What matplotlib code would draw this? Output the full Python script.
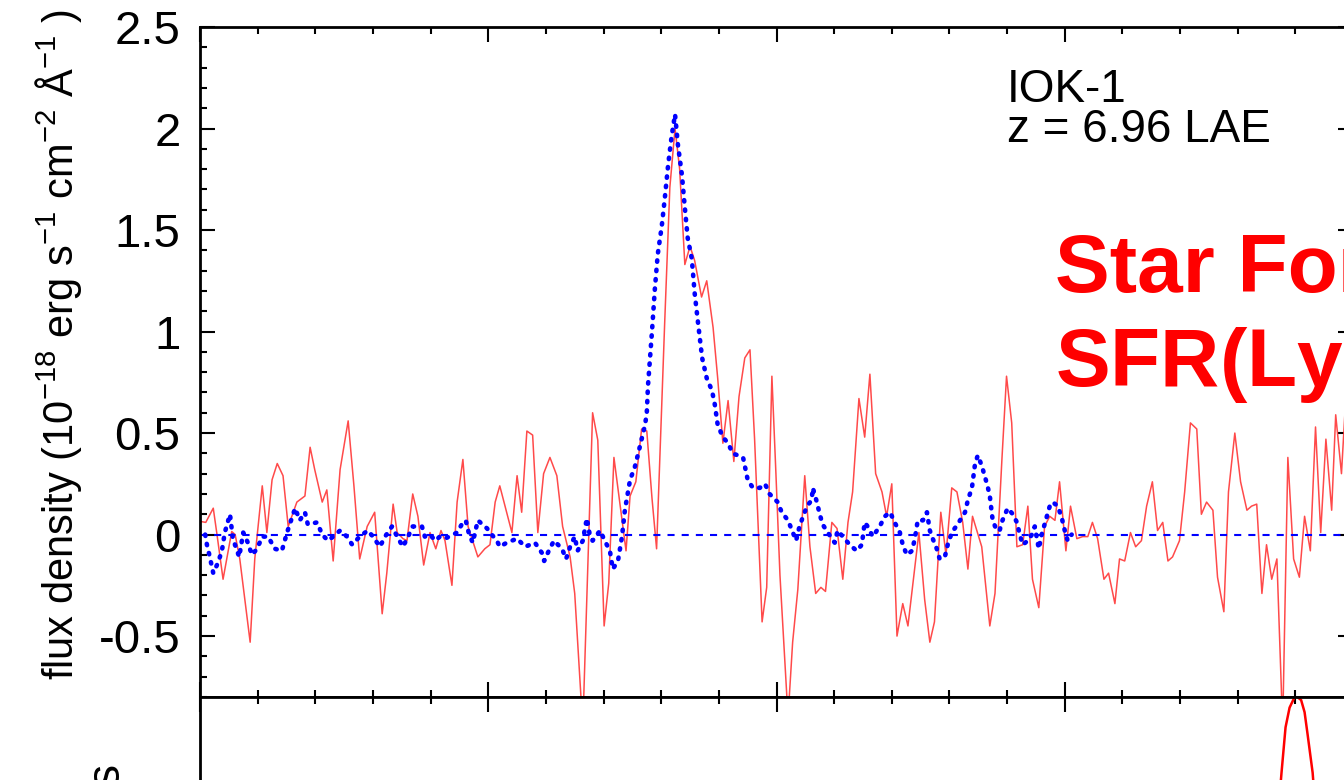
# IOK-1 Lya spectrum: observed flux (red) and smoothed profile (blue dotted)
import matplotlib
matplotlib.use('Agg')
import matplotlib.pyplot as plt
from matplotlib.ticker import MultipleLocator

plt.rcParams['font.family'] = ['Liberation Sans', 'DejaVu Sans']
plt.rcParams['mathtext.fontset'] = 'custom'
plt.rcParams['mathtext.rm'] = 'Liberation Sans'
plt.rcParams['mathtext.it'] = 'Liberation Sans:italic'

# observed spectrum (Angstrom, 1e-18 erg/s/cm2/A)
obs_wave = [9600.0, 9601.0, 9602.3, 9602.9, 9604.0, 9605.5, 9606.1, 9606.9, 9608.7, 9609.5,
            9610.8, 9611.6, 9612.5, 9613.4, 9614.4, 9615.3, 9616.8, 9618.2, 9619.1, 9619.9,
            9621.2, 9622.0, 9623.1, 9624.3, 9625.7, 9626.7, 9627.7, 9629.0, 9630.3, 9631.6,
            9632.4, 9633.5, 9634.2, 9635.2, 9635.9, 9636.9, 9637.8, 9638.8, 9639.9, 9640.9,
            9641.8, 9642.5, 9643.7, 9644.6, 9645.6, 9646.5, 9648.2, 9649.4, 9650.3, 9651.2,
            9652.0, 9653.1, 9654.1, 9655.0, 9655.8, 9656.7, 9657.7, 9658.6, 9659.6, 9660.7,
            9661.9, 9662.9, 9664.2, 9665.0, 9666.4, 9668.1, 9669.0, 9670.1, 9670.9, 9671.8,
            9672.8, 9673.9, 9674.6, 9675.6, 9676.6, 9677.5, 9678.4, 9679.2, 9680.6, 9681.5,
            9682.4, 9683.2, 9684.1, 9685.0, 9685.8, 9687.0, 9687.9, 9689.0, 9689.8, 9690.7,
            9691.6, 9692.6, 9693.5, 9694.5, 9695.4, 9696.2, 9697.5, 9698.3, 9699.2, 9699.9,
            9700.6, 9702.0, 9702.8, 9703.7, 9704.9, 9705.8, 9706.8, 9707.7, 9708.5, 9709.6,
            9710.5, 9711.5, 9712.4, 9713.2, 9714.3, 9715.3, 9716.2, 9717.2, 9718.3, 9719.1,
            9720.0, 9720.9, 9721.9, 9722.8, 9723.8, 9724.7, 9725.7, 9726.6, 9727.4, 9728.5,
            9729.4, 9730.4, 9731.3, 9732.3, 9733.2, 9734.0, 9735.6, 9737.0, 9737.9, 9739.1,
            9739.9, 9740.8, 9741.7, 9742.7, 9743.6, 9744.4, 9745.5, 9746.5, 9747.4, 9748.3,
            9749.1, 9750.2, 9751.0, 9752.1, 9753.1, 9754.0, 9754.8, 9755.7, 9756.8, 9757.6,
            9758.7, 9759.5, 9760.4, 9761.4, 9762.3, 9763.3, 9764.2, 9765.2, 9766.1, 9767.0,
            9767.9, 9768.7, 9769.9, 9770.8, 9771.8, 9772.9, 9773.7, 9774.6, 9775.7, 9776.5,
            9777.6, 9778.4, 9779.5, 9780.5, 9781.6, 9782.4, 9783.3, 9784.2, 9785.0, 9785.9,
            9786.8, 9787.8, 9788.7, 9789.7, 9790.7, 9791.6, 9792.6, 9793.5, 9794.4, 9795.3,
            9796.3, 9797.0, 9798.0, 9798.7]
obs_flux = [0.065, 0.06, 0.13, 0.01, -0.22, 0.015, 0.0, -0.12, -0.53, -0.12,
            0.24, 0.01, 0.27, 0.35, 0.29, 0.04, 0.16, 0.19, 0.43, 0.32,
            0.16, 0.22, -0.13, 0.32, 0.56, 0.24, -0.12, 0.04, 0.11, -0.39,
            -0.19, 0.15, 0.01, -0.02, -0.03, 0.20, 0.09, -0.15, 0.01, -0.07,
            0.02, -0.03, -0.25, 0.16, 0.37, 0.04, -0.11, -0.07, -0.05, 0.16,
            0.24, 0.12, 0.01, 0.29, 0.11, 0.51, 0.49, 0.01, 0.30, 0.38,
            0.29, 0.04, -0.11, -0.29, -0.95, 0.60, 0.465, -0.45, -0.24, 0.38,
            0.16, -0.08, 0.19, 0.26, 0.52, 0.51, 0.18, -0.07, 1.04, 1.71,
            2.00, 1.80, 1.33, 1.42, 1.35, 1.17, 1.25, 1.02, 0.77, 0.45,
            0.66, 0.36, 0.68, 0.87, 0.91, 0.47, -0.43, -0.26, 0.78, 0.30,
            -0.20, -0.90, -0.53, -0.27, 0.29, -0.06, -0.29, -0.26, -0.28, 0.06,
            0.03, -0.22, 0.06, 0.21, 0.67, 0.48, 0.79, 0.30, 0.21, 0.09,
            0.25, -0.50, -0.34, -0.45, -0.21, 0.01, -0.32, -0.53, -0.43, 0.11,
            -0.10, 0.23, 0.21, 0.06, -0.17, 0.09, -0.06, -0.45, -0.29, 0.37,
            0.78, 0.55, -0.06, -0.05, 0.14, -0.22, -0.36, 0.04, 0.09, 0.07,
            0.26, -0.08, 0.14, -0.02, -0.01, -0.01, 0.06, -0.02, -0.22, -0.19,
            -0.34, -0.12, -0.13, 0.01, -0.06, -0.03, 0.14, 0.26, 0.02, 0.06,
            -0.13, -0.11, -0.03, 0.21, 0.55, 0.52, 0.10, 0.16, 0.12, -0.21,
            -0.38, 0.21, 0.50, 0.26, 0.12, 0.14, 0.15, -0.29, -0.05, -0.22,
            -0.12, -0.95, 0.38, -0.12, -0.21, 0.09, -0.08, 0.53, 0.01, 0.47,
            0.12, 0.59, 0.30, 0.65]

# smoothed profile
smooth_wave = [9600.9, 9601.2, 9601.7, 9602.3, 9603.1, 9603.8, 9604.3, 9605.2, 9605.7, 9606.8,
               9607.5, 9608.3, 9609.0, 9609.9, 9610.8, 9611.8, 9613.0, 9614.2, 9615.1, 9616.5,
               9617.3, 9618.2, 9618.7, 9620.3, 9621.2, 9622.2, 9623.1, 9624.3, 9625.5, 9626.4,
               9627.7, 9629.1, 9630.0, 9631.2, 9632.1, 9633.3, 9634.2, 9635.2, 9636.1, 9636.9,
               9638.5, 9639.0, 9639.9, 9640.8, 9641.6, 9642.5, 9644.6, 9645.4, 9646.1, 9646.6,
               9647.3, 9648.2, 9649.8, 9650.3, 9651.5, 9652.0, 9653.2, 9655.0, 9656.4, 9658.1,
               9659.3, 9659.7, 9660.5, 9661.4, 9662.8, 9663.5, 9664.2, 9665.0, 9665.5, 9666.4,
               9667.1, 9667.6, 9668.1, 9669.4, 9670.2, 9671.1, 9671.6, 9672.5, 9673.2, 9673.7,
               9674.6, 9675.4, 9676.1, 9677.2, 9677.5, 9677.7, 9678.4, 9678.9, 9679.4, 9680.1,
               9680.6, 9681.2, 9681.8, 9682.4, 9682.9, 9683.6, 9684.1, 9684.6, 9685.3, 9685.8,
               9686.4, 9687.1, 9687.9, 9688.8, 9689.3, 9689.8, 9690.7, 9691.6, 9692.4, 9693.3,
               9694.2, 9695.0, 9695.9, 9697.1, 9698.0, 9698.8, 9700.2, 9700.9, 9702.0, 9702.7,
               9703.4, 9703.9, 9704.6, 9705.3, 9706.1, 9706.3, 9707.0, 9707.5, 9708.0, 9708.9,
               9710.1, 9710.6, 9711.5, 9712.7, 9713.9, 9714.8, 9715.3, 9715.8, 9716.7, 9717.9,
               9718.8, 9719.7, 9720.5, 9721.4, 9721.9, 9722.6, 9723.5, 9724.0, 9724.5, 9725.4,
               9726.1, 9726.6, 9727.1, 9727.8, 9728.3, 9729.2, 9729.7, 9730.4, 9731.4, 9732.7,
               9733.2, 9733.9, 9734.4, 9734.9, 9735.6, 9736.1, 9736.6, 9737.0, 9737.3, 9737.5,
               9738.2, 9738.7, 9739.2, 9740.1, 9741.0, 9741.7, 9742.2, 9742.7, 9743.6, 9744.3,
               9744.8, 9745.5, 9746.0, 9746.7, 9747.4, 9747.9, 9748.8, 9749.5, 9750.0, 9750.5,
               9751.2]
smooth_flux = [0.0, -0.05, -0.11, -0.19, -0.14, -0.08, 0.01, 0.10, -0.02, -0.11,
               0.01, -0.04, -0.10, -0.07, -0.01, -0.01, -0.07, -0.08, 0.01, 0.13,
               0.07, 0.11, 0.05, 0.06, 0.0, -0.03, -0.01, 0.02, -0.01, -0.05,
               -0.01, 0.02, -0.01, -0.06, -0.01, 0.04, -0.01, -0.06, -0.01, 0.04,
               0.04, -0.01, 0.0, -0.03, -0.01, -0.02, 0.01, 0.05, 0.07, 0.01,
               -0.04, 0.07, 0.03, 0.01, -0.03, -0.06, -0.04, -0.02, -0.06, -0.04,
               -0.09, -0.13, -0.08, -0.03, -0.07, -0.12, -0.06, -0.01, -0.08, -0.03,
               0.08, 0.0, -0.03, 0.02, -0.03, -0.08, -0.17, -0.13, -0.01, 0.12,
               0.27, 0.33, 0.41, 0.54, 0.60, 0.73, 1.00, 1.21, 1.38, 1.52,
               1.65, 1.82, 1.96, 2.07, 1.92, 1.77, 1.61, 1.46, 1.36, 1.19,
               1.04, 0.87, 0.77, 0.71, 0.64, 0.54, 0.48, 0.45, 0.40, 0.39,
               0.38, 0.27, 0.23, 0.23, 0.25, 0.20, 0.16, 0.11, 0.07, 0.02,
               -0.03, 0.03, 0.09, 0.14, 0.17, 0.23, 0.16, 0.10, 0.05, 0.01,
               -0.04, 0.02, -0.01, -0.05, -0.08, -0.05, 0.06, 0.04, -0.01, 0.04,
               0.09, 0.11, 0.06, 0.01, -0.05, -0.10, -0.08, -0.02, 0.07, 0.07,
               0.11, 0.02, -0.02, -0.07, -0.12, -0.11, -0.05, 0.01, 0.05, 0.11,
               0.17, 0.23, 0.34, 0.39, 0.34, 0.29, 0.24, 0.19, 0.12, 0.07,
               0.02, 0.02, 0.07, 0.13, 0.10, 0.06, 0.0, -0.05, -0.03, 0.0,
               0.04, -0.07, 0.0, 0.07, 0.14, 0.16, 0.14, 0.08, 0.02, -0.03,
               0.0]

# lower panel curve
low_wave = [9786.3, 9787.6, 9788.3, 9789.0, 9790.0, 9791.0, 9791.6, 9792.1, 9793.0, 9794.2]
low_val = [0.45, 0.75, 0.90, 0.965, 1.005, 0.99, 0.95, 0.88, 0.75, 0.45]

W, H = 1344, 780
fig = plt.figure(figsize=(W / 100, H / 100), dpi=100)

ax = fig.add_axes([200 / W, 1 - 697 / H, 1153 / W, 670 / H])
ax2 = fig.add_axes([200 / W, 1 - 1000 / H, 1153 / W, 303 / H])

ax.plot(obs_wave, obs_flux, color='#ff2a2a', lw=1.1, alpha=0.85)
ax.axhline(0.0, color='#0000ff', lw=1.5, linestyle=(0, (3.4, 3.4)))
ax.plot(smooth_wave, smooth_flux, color='#0000ff', lw=3.3,
        linestyle=(0, (0.3, 1.75)), dash_capstyle='round')

ax.set_xlim(9600, 9800)
ax.set_ylim(-0.8, 2.5)
ax.xaxis.set_major_locator(MultipleLocator(50))
ax.xaxis.set_minor_locator(MultipleLocator(10))
ax.yaxis.set_minor_locator(MultipleLocator(0.1))
ax.set_yticks([-0.5, 0, 0.5, 1, 1.5, 2, 2.5])
ax.set_yticklabels(['-0.5', '0', '0.5', '1', '1.5', '2', '2.5'])
ax.tick_params(which='both', direction='in', top=True, right=True, width=1.5,
               labelbottom=False, labelsize=34, pad=14)
ax.tick_params(which='major', length=11)
ax.tick_params(which='minor', length=5)
for s in ax.spines.values():
    s.set_linewidth(2)

ax2.plot(low_wave, low_val, color='red', lw=1.8)
ax2.set_xlim(9600, 9800)
ax2.set_ylim(0, 1)
ax2.xaxis.set_major_locator(MultipleLocator(50))
ax2.xaxis.set_minor_locator(MultipleLocator(10))
ax2.set_yticks([])
ax2.tick_params(which='both', direction='in', top=True, bottom=False, width=1.5,
                labelbottom=False)
ax2.tick_params(which='major', length=11)
ax2.tick_params(which='minor', length=5)
for s in ax2.spines.values():
    s.set_linewidth(2)

fig.text(73 / W, 1 - 680 / H,
         r'flux density (10$^{-18}$ erg s$^{-1}$ cm$^{-2}$ $\mathrm{\AA}^{-1}$ )',
         rotation=90, rotation_mode='anchor', ha='left', va='baseline', fontsize=30)
fig.text(118 / W, 1 - 762 / H, 'counts', rotation=90, rotation_mode='anchor',
         ha='right', va='baseline', fontsize=33)

fig.text(1007 / W, 1 - 102 / H, 'IOK-1', fontsize=33, va='baseline')
fig.text(1007 / W, 1 - 142 / H, 'z = 6.96 LAE', fontsize=33, va='baseline')

fig.text(1055 / W, 1 - 292 / H, 'Star Formation Rate', color='red', fontsize=59,
         fontweight='bold', va='baseline')
fig.text(1055 / W, 1 - 387 / H, r'SFR(Ly$\alpha$) ~ 10 M$_\odot$/yr', color='red',
         fontsize=59, fontweight='bold', va='baseline')

fig.savefig('out.png', dpi=100)
